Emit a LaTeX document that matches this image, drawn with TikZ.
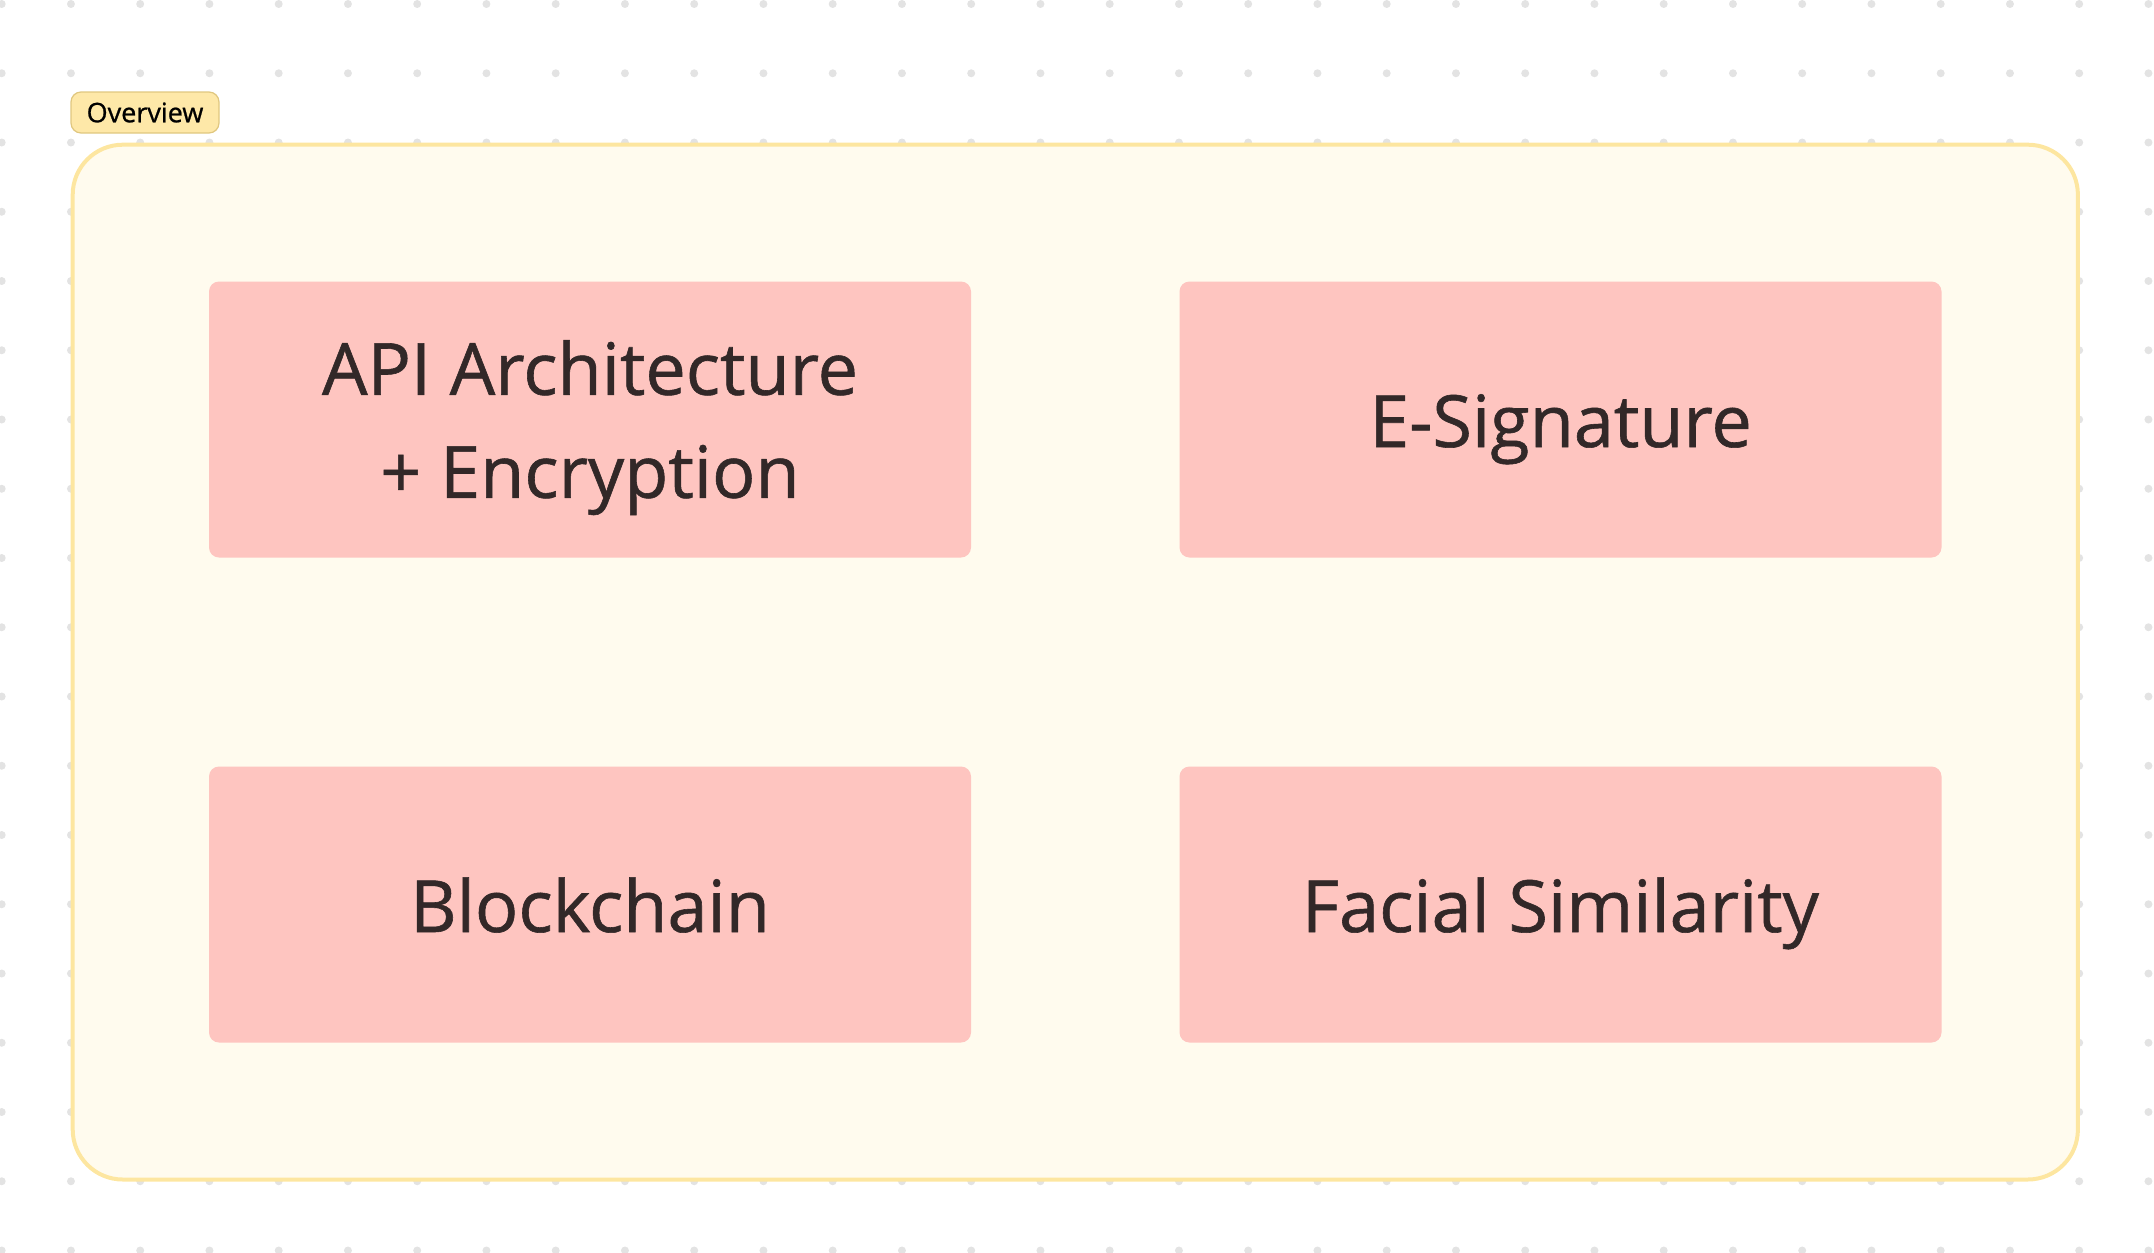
\documentclass[tikz,border=0pt]{standalone}
\usepackage{fontspec}
\setmainfont{Open Sans}
\newfontfamily\cardfont{Open Sans}[RawFeature={embolden=0.8}]
\definecolor{dotgray}{HTML}{E3E3E3}
\definecolor{panelfill}{HTML}{FFFBEE}
\definecolor{panelline}{HTML}{FDE6A0}
\definecolor{tagfill}{HTML}{FEE8A8}
\definecolor{tagline}{HTML}{E0C77F}
\definecolor{cardfill}{HTML}{FEC5C0}
\definecolor{ink}{HTML}{322828}
\begin{document}
\begin{tikzpicture}[x=0.5pt,y=-0.5pt,
  panel/.style={draw=panelline, line width=2pt, fill=panelfill, rounded corners=25pt,
    minimum width=1002.6pt, minimum height=517.4pt, inner sep=0pt},
  tag/.style={draw=tagline, line width=0.6pt, fill=tagfill, rounded corners=5pt,
    minimum width=74pt, minimum height=20.5pt, inner sep=0pt,
    font=\cardfont\fontsize{13.5}{16}\selectfont},
  card/.style={fill=cardfill, rounded corners=5pt, minimum width=381pt, minimum height=138pt,
    inner sep=0pt, text=ink, align=center, font=\cardfont\fontsize{36}{51.5}\selectfont},
  oneline/.style={text height=27.5pt, text depth=0pt}]
\useasboundingbox (0,0) rectangle (2154,1253);
\foreach \i in {0,...,31}
  \foreach \j in {0,...,18}
    \fill[dotgray] (1.7+69.25*\i,4+69.25*\j) circle (4);
\node[panel] (panel) at (1075.3,662.1) {};
\node[tag] (overview) at (145,112.5) {Overview};
\node[card] (api) at (590,419.5) {\rule{0pt}{35.4pt}API Architecture\\+ Encryption};
\node[card, oneline] (esign) at (1560.5,419.5) {E-Signature};
\node[card, oneline] (chain) at (590,904.5) {Blockchain};
\node[card, oneline] (face) at (1560.5,904.5) {Facial Similarity};
\end{tikzpicture}
\end{document}
